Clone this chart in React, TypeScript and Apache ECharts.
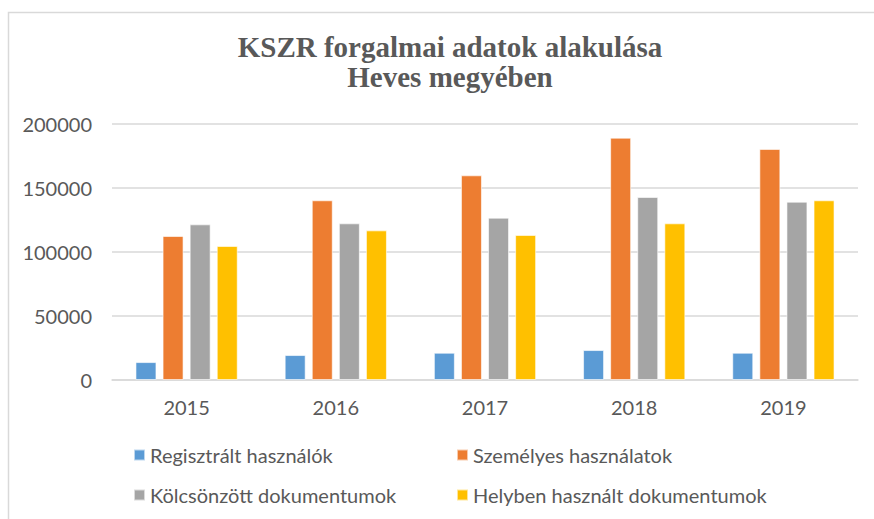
import React, { useEffect, useRef } from "react";
import * as echarts from "echarts";

const categories = ["2015", "2016", "2017", "2018", "2019"];
const seriesNames = [
  "Regisztrált használók",
  "Személyes használatok",
  "Kölcsönzött dokumentumok",
  "Helyben használt dokumentumok",
];
const registered = [14000, 19500, 21300, 23400, 21300];
const personal = [112500, 140400, 159900, 189300, 180500];
const borrowed = [121600, 122400, 126800, 143000, 139300];
const onsite = [104700, 116900, 113300, 122400, 140400];
const colors = ["#5b9bd5", "#ed7d31", "#a5a5a5", "#ffc000"];
const titleText = "KSZR forgalmai adatok alakulása\nHeves megyében";

const FONT = "Lato";

export default function App() {
  const ref = useRef<HTMLDivElement>(null);
  useEffect(() => {
    if (!ref.current) return;
    const chart = echarts.init(ref.current, null, { renderer: "svg" });
    const values = [registered, personal, borrowed, onsite];
    const legendPos = [
      { left: 128, top: 440 },
      { left: 451, top: 440 },
      { left: 128, top: 480 },
      { left: 451, top: 480 },
    ];
    chart.setOption({
      animation: false,
      backgroundColor: "#ffffff",
      graphic: [
        {
          type: "rect",
          shape: { x: 8.5, y: 12.5, width: 900, height: 600 },
          style: { fill: "none", stroke: "#d9d9d9", lineWidth: 1.5 },
          silent: true,
        },
        {
          type: "text",
          x: 450,
          y: 32,
          style: {
            text: titleText,
            textAlign: "center",
            textVerticalAlign: "top",
            fontFamily: "Liberation Serif",
            fontWeight: "bold",
            fontSize: 29,
            lineHeight: 30,
            fill: "#595959",
          },
        },
      ],
      legend: legendPos.map((p, i) => ({
        data: [seriesNames[i]],
        left: p.left,
        top: p.top,
        itemWidth: 11,
        itemHeight: 11,
        itemGap: 5,
        icon: "rect",
        textStyle: { fontFamily: FONT, fontSize: 20, color: "#595959" },
      })),
      grid: { left: 112, right: 16, top: 124, bottom: 139 },
      xAxis: {
        type: "category",
        data: categories,
        axisLine: { lineStyle: { color: "#d9d9d9", width: 1.5 } },
        axisTick: { show: false },
        axisLabel: { fontFamily: FONT, fontSize: 20, color: "#595959", margin: 17 },
      },
      yAxis: {
        type: "value",
        min: 0,
        max: 200000,
        interval: 50000,
        axisLine: { show: false },
        axisTick: { show: false },
        splitLine: { lineStyle: { color: "#d9d9d9", width: 1.5 } },
        axisLabel: {
          fontFamily: FONT,
          fontSize: 20,
          color: "#595959",
          margin: 20,
          formatter: (v: number) => String(v),
        },
      },
      series: seriesNames.map((name, i) => ({
        name,
        type: "bar",
        data: values[i],
        barWidth: 21,
        barGap: "29%",
        itemStyle: { color: colors[i], borderColor: "rgba(255,255,255,0.6)", borderWidth: 1 },
      })),
    });
    return () => chart.dispose();
  }, []);
  return (
    <div
      ref={ref}
      style={{ position: "fixed", left: 0, top: 0, width: 874, height: 519, background: "#fff" }}
    />
  );
}
